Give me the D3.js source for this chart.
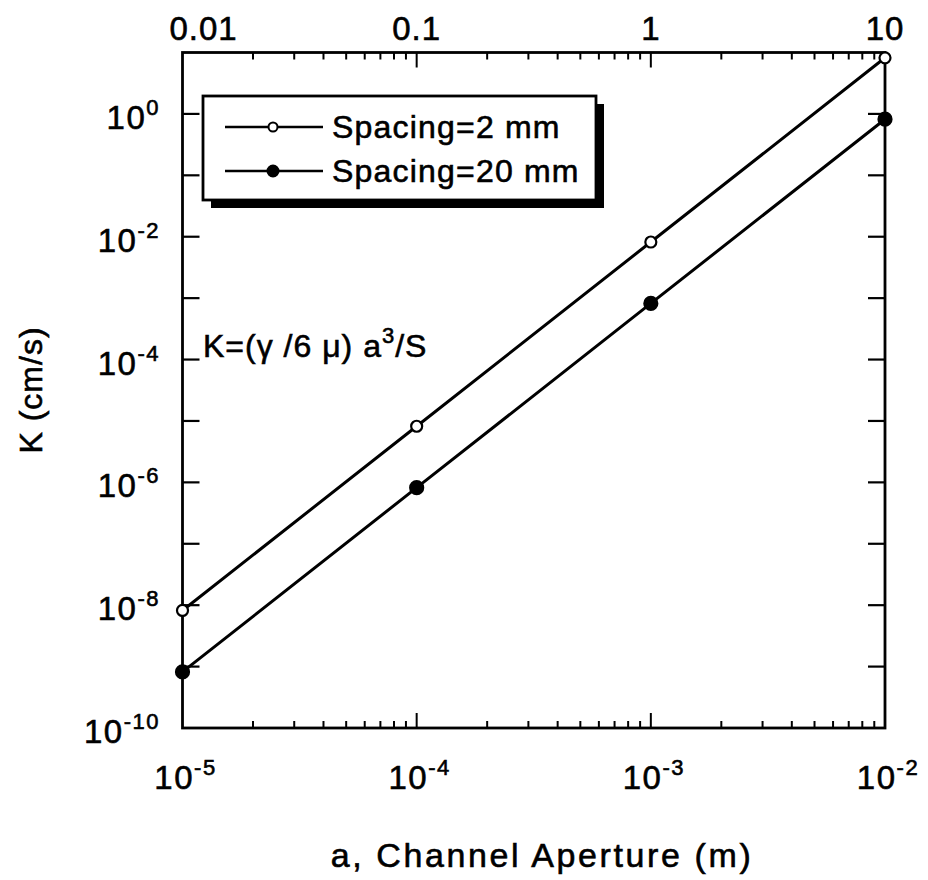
<!DOCTYPE html>
<html>
<head>
<meta charset="utf-8">
<script src="https://cdn.jsdelivr.net/npm/d3@7"></script>
<style>
  html, body { margin: 0; padding: 0; background: #fff; }
  svg { display: block; font-family: "Liberation Sans", Arial, Helvetica, sans-serif; }
</style>
</head>
<body>
<svg id="chart" width="928" height="880"></svg>
<script>
// Channel aperture a (m) for each computed point
const apertures = [1e-5, 1e-4, 1e-3, 1e-2];
// Hydraulic conductivity K (cm/s) for the two fracture spacings
const kSpacing2mm = [8.2e-9, 8.2e-6, 8.2e-3, 8.2];
const kSpacing20mm = [8.2e-10, 8.2e-7, 8.2e-4, 0.82];
const seriesNames = ["Spacing=2 mm", "Spacing=20 mm"];

// Axis tick labels
const bottomExponents = [-5, -4, -3, -2];
const leftExponents = [0, -2, -4, -6, -8, -10];
const topTickValues = [0.01, 0.1, 1, 10];
const topTickLabels = ["0.01", "0.1", "1", "10"];

const svg = d3.select("#chart");
const L = 182.5, R = 885, T = 52.5, B = 728;

const x = d3.scaleLog().domain([1e-5, 1e-2]).range([L, R]);
const xTop = d3.scaleLog().domain([0.01, 10]).range([L, R]);
const y = d3.scaleLog().domain([1e-10, 10]).range([B, T]);

const ink = "#000";

// minor/major tick values for log axes
function logTicks(lo, hi) {
  const out = [];
  for (let e = Math.round(Math.log10(lo)); e < Math.round(Math.log10(hi)); e++) {
    for (let m = 1; m < 10; m++) out.push({ v: m * Math.pow(10, e), major: m === 1 });
  }
  return out;
}

// heavier text, like the printed figure
function ink_text(sel, size, spacing) {
  return sel.attr("font-size", size).attr("fill", ink)
    .attr("stroke", ink).attr("stroke-width", 0.6)
    .attr("letter-spacing", spacing);
}

const g = svg.append("g");

// bottom axis ticks (pointing up)
const bt = logTicks(1e-5, 1e-2).filter(d => d.v > 1e-5);
g.selectAll(".bt").data(bt).join("line")
  .attr("x1", d => x(d.v)).attr("x2", d => x(d.v))
  .attr("y1", B).attr("y2", d => B - (d.major ? 15 : 7))
  .attr("stroke", ink).attr("stroke-width", 2);

// top axis ticks (pointing down)
const tt = logTicks(0.01, 10).filter(d => d.v > 0.01);
g.selectAll(".tt").data(tt).join("line")
  .attr("x1", d => xTop(d.v)).attr("x2", d => xTop(d.v))
  .attr("y1", T).attr("y2", d => T + (d.major ? 15 : 7))
  .attr("stroke", ink).attr("stroke-width", 2);

// left and right decade ticks
const decades = d3.range(-9, 1).map(e => Math.pow(10, e));
g.selectAll(".lt").data(decades).join("line")
  .attr("x1", L).attr("x2", L + 17)
  .attr("y1", d => y(d)).attr("y2", d => y(d))
  .attr("stroke", ink).attr("stroke-width", 2.2);
g.selectAll(".rt").data(decades).join("line")
  .attr("x1", R).attr("x2", R - 17)
  .attr("y1", d => y(d)).attr("y2", d => y(d))
  .attr("stroke", ink).attr("stroke-width", 2.2);

// frame
g.append("rect").attr("x", L).attr("y", T).attr("width", R - L).attr("height", B - T)
  .attr("fill", "none").attr("stroke", ink).attr("stroke-width", 2.8);

// tick labels
function powLabel(sel, exp) {
  sel.append("tspan").text("10");
  sel.append("tspan").attr("dy", -14).attr("font-size", 22).text(String(exp));
}
bottomExponents.forEach(e => {
  const t = ink_text(svg.append("text"), 33, 1.5)
    .attr("x", x(Math.pow(10, e)) + 3).attr("y", 789)
    .attr("text-anchor", "middle");
  powLabel(t, e);
});
leftExponents.forEach(e => {
  const t = ink_text(svg.append("text"), 33, 1.5)
    .attr("x", 160).attr("y", y(Math.pow(10, e)) + 15)
    .attr("text-anchor", "end");
  powLabel(t, e);
});
topTickValues.forEach((v, i) => {
  ink_text(svg.append("text"), 33, 1)
    .attr("x", i === 0 ? xTop(v) - 13 : xTop(v))
    .attr("y", 40)
    .attr("text-anchor", i === 0 ? "start" : "middle")
    .text(topTickLabels[i]);
});

// axis titles
ink_text(svg.append("text"), 34, 2.6)
  .attr("x", 542).attr("y", 867).attr("text-anchor", "middle")
  .text("a, Channel Aperture (m)");
ink_text(svg.append("text"), 32, 1)
  .attr("transform", "translate(42,390) rotate(-90)")
  .attr("text-anchor", "middle")
  .text("K (cm/s)");

// formula annotation
const f = ink_text(svg.append("text"), 32, 1).attr("x", 203).attr("y", 357);
f.append("tspan").text("K=(γ /6 μ) a");
f.append("tspan").attr("dy", -14).attr("font-size", 22).text("3");
f.append("tspan").attr("dy", 14).text("/S");

// series lines and markers
const series = [
  { name: seriesNames[0], values: kSpacing2mm, filled: false },
  { name: seriesNames[1], values: kSpacing20mm, filled: true }
];
const line = d3.line().x(d => x(d[0])).y(d => y(d[1]));
series.forEach(s => {
  const pts = apertures.map((a, i) => [a, s.values[i]]);
  svg.append("path").datum(pts).attr("d", line)
    .attr("fill", "none").attr("stroke", ink).attr("stroke-width", 3);
  svg.selectAll(null).data(pts).join("circle")
    .attr("cx", d => x(d[0])).attr("cy", d => y(d[1]))
    .attr("r", s.filled ? 6.5 : 5.5)
    .attr("fill", s.filled ? ink : "#fff")
    .attr("stroke", ink).attr("stroke-width", 2.2);
});

// legend with drop shadow
const lg = svg.append("g");
const lx = 203, ly = 96, lw = 393, lh = 104;
lg.append("rect").attr("x", lx + 8).attr("y", ly + 8).attr("width", lw).attr("height", lh).attr("fill", ink);
lg.append("rect").attr("x", lx).attr("y", ly).attr("width", lw).attr("height", lh)
  .attr("fill", "#fff").attr("stroke", ink).attr("stroke-width", 2.8);
const rowY = [127, 171];
series.forEach((s, i) => {
  lg.append("line").attr("x1", 225).attr("x2", 323).attr("y1", rowY[i]).attr("y2", rowY[i])
    .attr("stroke", ink).attr("stroke-width", 2.6);
  lg.append("circle").attr("cx", 273).attr("cy", rowY[i]).attr("r", s.filled ? 5.5 : 4.5)
    .attr("fill", s.filled ? ink : "#fff").attr("stroke", ink).attr("stroke-width", 2);
  ink_text(lg.append("text"), 32, 1.2)
    .attr("x", 332).attr("y", rowY[i] + 11).text(s.name);
});
</script>
</body>
</html>
